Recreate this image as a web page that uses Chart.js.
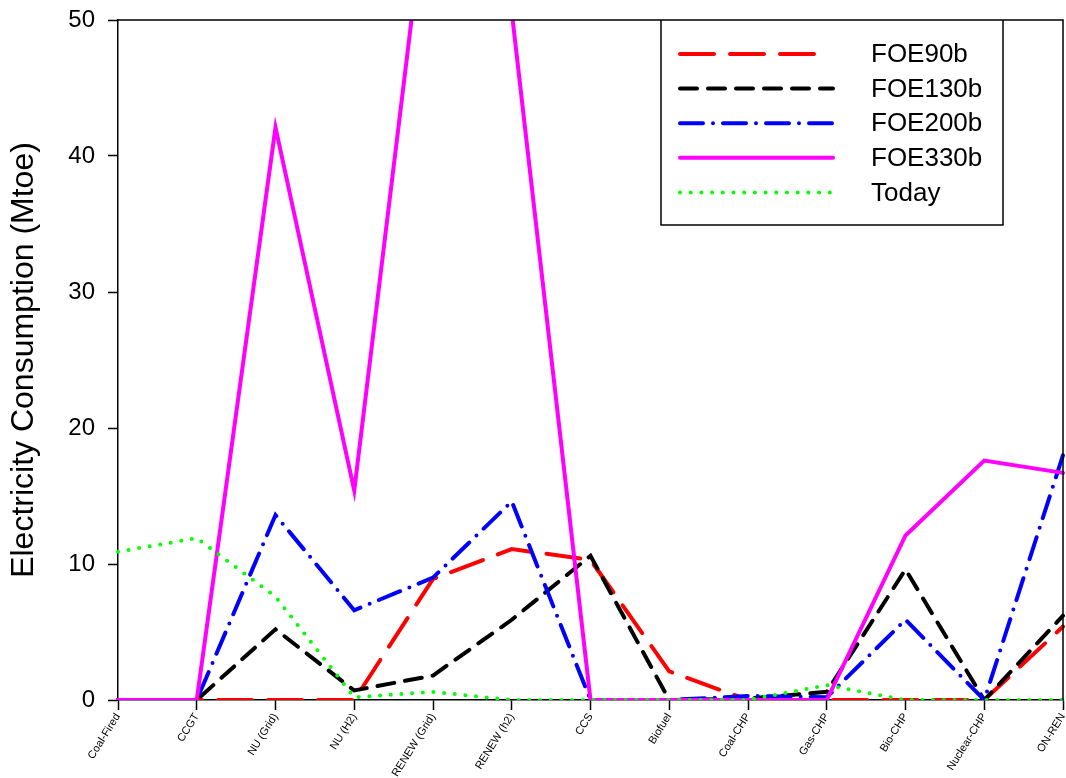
<!DOCTYPE html>
<html>
<head>
<meta charset="utf-8">
<title>Electricity Consumption</title>
<script src="https://cdn.jsdelivr.net/npm/chart.js@4.4.1/dist/chart.umd.min.js"></script>
<style>
  html, body { margin: 0; padding: 0; background: #fff; }
  #myChart { display: block; }
</style>
</head>
<body>
<canvas id="myChart" width="1066" height="778"></canvas>
<script>
//Categorias del eje X
const categorias = ["Coal-Fired", "CCGT", "NU (Grid)", "NU (H2)", "RENEW (Grid)", "RENEW (h2)", "CCS", "Biofuel", "Coal-CHP", "Gas-CHP", "Bio-CHP", "Nuclear-CHP", "ON-REN"];

//Valores de cada serie (Mtoe)
const foe90b  = [0, 0, 0, 0, 8.9, 11.1, 10.3, 2.1, 0, 0, 0, 0, 5.4];
const foe130b = [0, 0, 5.2, 0.7, 1.8, 5.9, 10.6, 0, 0.1, 0.6, 9.6, 0, 6.2];
const foe200b = [0, 0, 13.6, 6.6, 9.0, 14.6, 0, 0, 0.3, 0.2, 5.9, 0, 18.0];
const foe330b = [0, 0, 42.1, 15.4, 63.0, 50.6, 0, 0, 0, 0, 12.1, 17.6, 16.7];
const today   = [10.9, 11.9, 7.6, 0.2, 0.6, 0, 0, 0, 0, 1.1, 0, 0, 0];

//Ticks del eje Y
const ticksY = [0, 10, 20, 30, 40, 50];

const fuente = "'Liberation Sans', Arial, Helvetica, sans-serif";

//Plugin para el marco superior/derecho y la leyenda dentro del grafico
const marcoYLeyenda = {
  id: "marcoYLeyenda",
  afterDraw: (chart) => {
    const { ctx, chartArea } = chart;
    ctx.save();
    ctx.strokeStyle = "#000";
    ctx.lineWidth = 1.5;
    ctx.beginPath();
    ctx.moveTo(chartArea.left, chartArea.top);
    ctx.lineTo(chartArea.right, chartArea.top);
    ctx.lineTo(chartArea.right, chartArea.bottom);
    ctx.stroke();

    // caja de la leyenda
    const x0 = 661, x1 = 1003, y0 = chartArea.top, y1 = 225;
    ctx.beginPath();
    ctx.moveTo(x0, y0);
    ctx.lineTo(x0, y1);
    ctx.lineTo(x1, y1);
    ctx.lineTo(x1, y0);
    ctx.stroke();

    ctx.font = "26px " + fuente;
    ctx.textBaseline = "middle";
    ctx.textAlign = "left";
    chart.data.datasets.forEach((ds, i) => {
      const y = 54 + i * 34.6;
      //la linea roja termina en su tercer trazo
      const fin = i === 0 ? 818 : 833;
      ctx.save();
      ctx.strokeStyle = ds.borderColor;
      ctx.lineWidth = ds.borderWidth;
      ctx.lineCap = "round";
      ctx.setLineDash(ds.borderDash || []);
      ctx.beginPath();
      ctx.moveTo(680, y);
      ctx.lineTo(fin, y);
      ctx.stroke();
      ctx.restore();
      ctx.fillStyle = "#000";
      ctx.fillText(ds.label, 871, y + 1);
    });
    ctx.restore();
  },
};

function serie(label, data, color, dash, orden) {
  return {
    label: label,
    data: data,
    borderColor: color,
    backgroundColor: color,
    borderWidth: 4,
    borderDash: dash,
    borderCapStyle: "round",
    pointRadius: 0,
    pointHoverRadius: 0,
    tension: 0,
    fill: false,
    order: orden,
  };
}

const data = {
  labels: categorias,
  datasets: [
    serie("FOE90b", foe90b, "#ff0000", [34, 16], 4),
    serie("FOE130b", foe130b, "#000000", [17, 11], 3),
    serie("FOE200b", foe200b, "#0000ff", [23, 10, 0, 10], 2),
    serie("FOE330b", foe330b, "#ff00ff", [], 1),
    serie("Today", today, "#00ff00", [0, 10.7], 0),
  ],
};

const config = {
  type: "line",
  data: data,
  plugins: [marcoYLeyenda],
  options: {
    responsive: false,
    animation: false,
    layout: { padding: { top: 20, right: 3, left: 0, bottom: 0 } },
    plugins: {
      legend: { display: false },
      tooltip: { enabled: false },
    },
    scales: {
      x: {
        offset: false,
        grid: {
          display: true,
          drawOnChartArea: false,
          drawTicks: true,
          tickLength: 10,
          tickWidth: 1.5,
          tickColor: "#000",
        },
        border: { display: true, color: "#000", width: 1.5 },
        ticks: {
          color: "#000",
          font: { family: fuente, size: 11 },
          maxRotation: 58,
          minRotation: 58,
          autoSkip: false,
          padding: 1,
        },
        afterFit: (scale) => {
          scale.height = 78;
          scale.paddingLeft = 0;
          scale.paddingRight = 0;
        },
      },
      y: {
        min: 0,
        max: 50,
        afterBuildTicks: (scale) => {
          scale.ticks = ticksY.map((v) => ({ value: v }));
        },
        grid: {
          display: true,
          drawOnChartArea: false,
          drawTicks: true,
          tickLength: 10,
          tickWidth: 1.5,
          tickColor: "#000",
        },
        border: { display: true, color: "#000", width: 1.5 },
        ticks: {
          color: "#000",
          font: { family: fuente, size: 24 },
          padding: 13,
        },
        title: {
          display: true,
          text: "Electricity Consumption (Mtoe)",
          color: "#000",
          font: { family: fuente, size: 32 },
          padding: { top: 5, bottom: 0 },
        },
        afterFit: (scale) => {
          scale.width = 118;
          scale.paddingTop = 0;
          scale.paddingBottom = 0;
        },
      },
    },
  },
};

const myChart = new Chart(document.getElementById("myChart"), config);
</script>
</body>
</html>
